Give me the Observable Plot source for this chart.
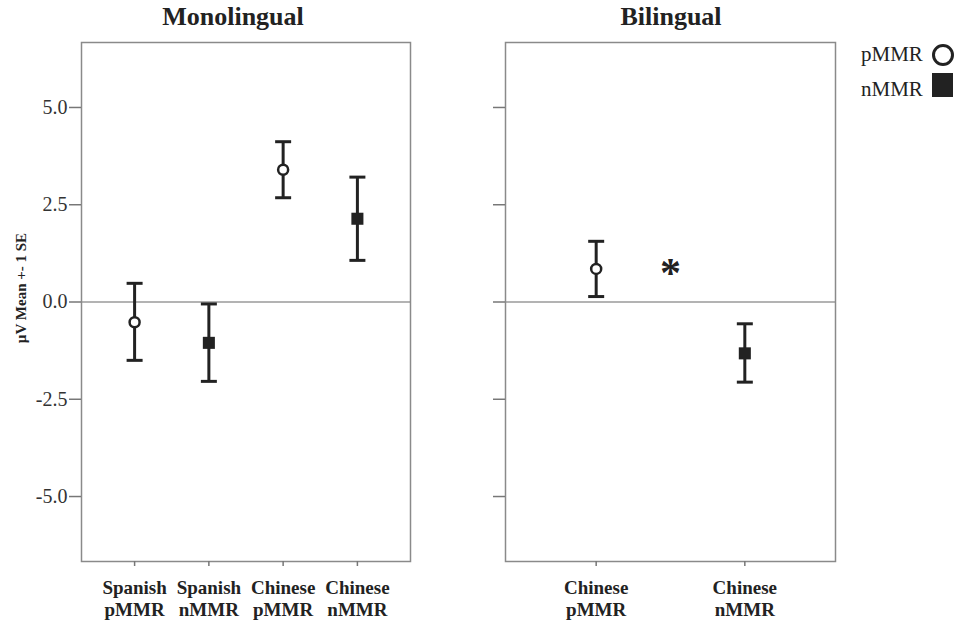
<!DOCTYPE html>
<html>
<head>
<meta charset="utf-8">
<script src="https://cdn.jsdelivr.net/npm/d3@7"></script>
<script src="https://cdn.jsdelivr.net/npm/@observablehq/plot@0.6"></script>
<style>
  html, body { margin: 0; padding: 0; background: #fff; }
  #root { position: relative; width: 957px; height: 621px; overflow: hidden; background: #fff;
          font-family: "Liberation Serif", "Times New Roman", serif; color: #222; }
  .abs { position: absolute; white-space: nowrap; }
  .title { font-size: 26px; font-weight: bold; line-height: 26px; top: 4px; transform: translateX(-50%); }
  .ylab { font-size: 15px; font-weight: bold; line-height: 15px; left: 21px; top: 288px;
          transform: translate(-50%, -50%) rotate(-90deg); }
  .leg { font-size: 21px; line-height: 21px; }
  #left, #right { position: absolute; top: 0; }
  #left { left: 0; }
  #right { left: 480px; }
  #root svg, #root svg text, #root svg tspan { font-family: "Liberation Serif", "Times New Roman", serif !important; }
</style>
</head>
<body>
<div id="root">
  <div id="left"></div>
  <div id="right"></div>
  <div class="abs title" style="left:233px">Monolingual</div>
  <div class="abs title" style="left:671px">Bilingual</div>
  <div class="abs ylab">µV Mean +- 1 SE</div>
  <div class="abs leg" style="left:861px; top:44px">pMMR</div>
  <div class="abs leg" style="left:861px; top:79px">nMMR</div>
  <div class="abs" style="left:932px; top:44px; width:16px; height:16px; border:3px solid #222; border-radius:50%;"></div>
  <div class="abs" style="left:932px; top:73px; width:21px; height:24px; background:#222;"></div>
</div>
<script>
// ---- data ----
const yTicks = [5, 2.5, 0, -2.5, -5];

const monoX = [1, 2, 3, 4];
const monoLabels = ["Spanish\npMMR", "Spanish\nnMMR", "Chinese\npMMR", "Chinese\nnMMR"];
const monoType = ["pMMR", "nMMR", "pMMR", "nMMR"];
const monoMean = [-0.52, -1.05, 3.40, 2.14];
const monoLow  = [-1.50, -2.04, 2.68, 1.07];
const monoHigh = [0.48, -0.05, 4.12, 3.21];

const biX = [1, 2];
const biLabels = ["Chinese\npMMR", "Chinese\nnMMR"];
const biType = ["pMMR", "nMMR"];
const biMean = [0.85, -1.32];
const biLow  = [0.14, -2.06];
const biHigh = [1.56, -0.56];

const sigX = [1.5];
const sigY = [0.85];
const sigLabel = ["*"];

// ---- helpers ----
const serif = "'Liberation Serif', 'Times New Roman', serif";
const capSymbol = {
  draw(context, size) {
    const w = Math.sqrt(size / Math.PI);
    context.moveTo(-w, 0);
    context.lineTo(w, 0);
  }
};

function rows(xs, labels, types, means, lows, highs) {
  return xs.map((x, i) => ({x, label: labels[i], type: types[i], mean: means[i], low: lows[i], high: highs[i]}));
}

const ink = "#222";
const gray = "#8a8a8a";

function panel({data, width, marginLeft, marginRight, xDomain, xTicks, labels, showYLabels, extra = []}) {
  const caps = data.flatMap(d => [{x: d.x, y: d.low}, {x: d.x, y: d.high}]);
  return Plot.plot({
    width, height: 621,
    marginLeft, marginRight, marginTop: 42, marginBottom: 60,
    style: {fontFamily: serif, color: "#333", background: "transparent"},
    x: {domain: xDomain},
    y: {domain: [-6.67, 6.67]},
    marks: [
      Plot.ruleY([0], {stroke: "#9a9a9a", strokeWidth: 1.5}),
      Plot.frame({stroke: gray, strokeWidth: 1.5}),
      Plot.axisY({
        ticks: yTicks, tickSize: 12, tickPadding: 2, stroke: "#777", strokeWidth: 1.5,
        tickFormat: showYLabels ? (d => d.toFixed(1)) : (() => ""),
        fontSize: 20, fontFamily: serif, fill: "#333", label: null
      }),
      Plot.axisX({
        ticks: xTicks, tickSize: 5, tickPadding: 12, stroke: "#777", strokeWidth: 1.5,
        tickFormat: (v) => labels[xTicks.indexOf(v)],
        fontSize: 19, fontFamily: serif, fontWeight: "bold", lineHeight: 1.15, fill: "#222", label: null
      }),
      Plot.ruleX(data, {x: "x", y1: "low", y2: "high", stroke: ink, strokeWidth: 3}),
      Plot.dot(caps, {x: "x", y: "y", symbol: capSymbol, r: 8, stroke: ink, fill: "none", strokeWidth: 3}),
      Plot.dot(data.filter(d => d.type === "pMMR"), {x: "x", y: "mean", symbol: "circle", r: 5, fill: "white", stroke: ink, strokeWidth: 2.5}),
      Plot.dot(data.filter(d => d.type === "nMMR"), {x: "x", y: "mean", symbol: "square", r: 6.8, fill: ink, stroke: "none"}),
      ...extra
    ]
  });
}

const monoData = rows(monoX, monoLabels, monoType, monoMean, monoLow, monoHigh);
const biData = rows(biX, biLabels, biType, biMean, biLow, biHigh);
const sigData = sigX.map((x, i) => ({x, y: sigY[i], label: sigLabel[i]}));

document.getElementById("left").append(panel({
  data: monoData, width: 440, marginLeft: 81, marginRight: 30,
  xDomain: [0.285, 4.715], xTicks: monoX, labels: monoLabels, showYLabels: true
}));

document.getElementById("right").append(panel({
  data: biData, width: 380, marginLeft: 25, marginRight: 25,
  xDomain: [0.39, 2.61], xTicks: biX, labels: biLabels, showYLabels: false,
  extra: [Plot.text(sigData, {x: "x", y: "y", text: "label", fontSize: 42, fontFamily: serif, fontWeight: "bold", fill: ink, dy: 5})]
}));
</script>
</body>
</html>
